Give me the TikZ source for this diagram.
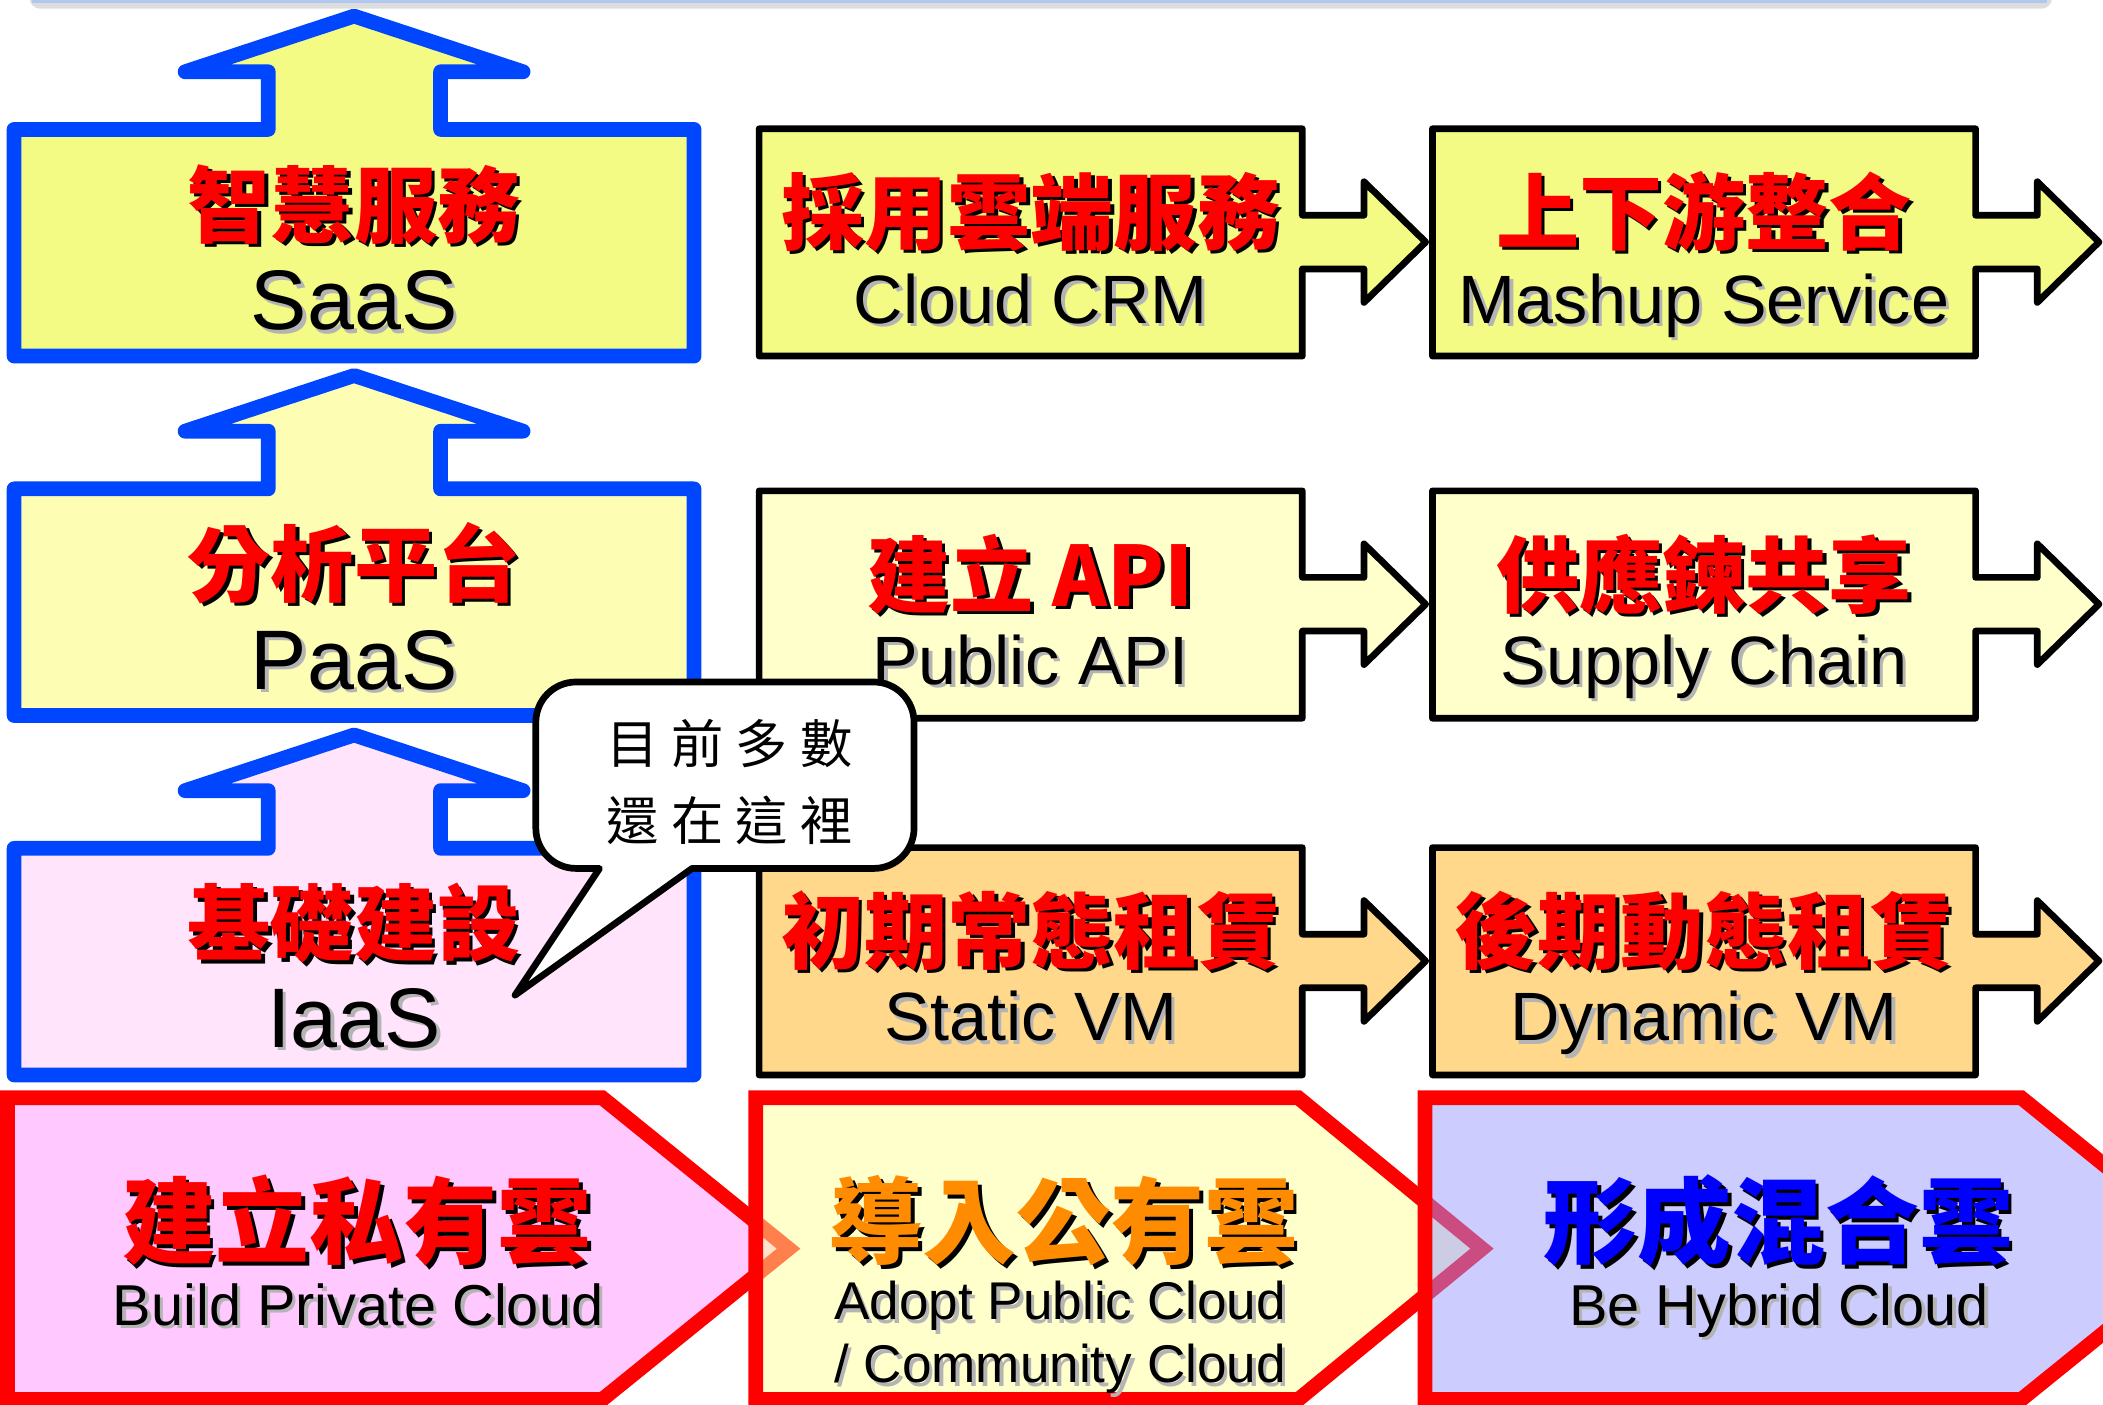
\documentclass[tikz,border=0pt]{standalone}
\usepackage{fontspec}
\setmainfont{Liberation Sans}
\newfontfamily\cjk{Noto Sans CJK TC}
\usetikzlibrary{
  calc,
  positioning
}

\definecolor{blockblue}{RGB}{0,70,255}
\definecolor{saasfill}{RGB}{243,251,132}
\definecolor{paasfill}{RGB}{253,253,180}
\definecolor{iaasfill}{RGB}{255,228,252}
\definecolor{apifill}{RGB}{255,255,204}
\definecolor{vmfill}{RGB}{255,216,140}
\definecolor{privfill}{RGB}{255,200,255}
\definecolor{pubfill}{RGB}{255,255,153}
\definecolor{hybfill}{RGB}{153,153,255}
\definecolor{pubtext}{RGB}{255,140,0}
\definecolor{enshadow}{RGB}{180,180,180}
\definecolor{titleshade}{RGB}{221,221,221}
\definecolor{titleline}{RGB}{176,200,240}

% text with a drop shadow: colour, shadow colour, text
\newcommand\shtext[3]{\leavevmode\rlap{\kern1.3pt\raisebox{-1.3pt}{\textcolor{#2}{#3}}}\textcolor{#1}{#3}}
\newcommand\bgap{\hspace{4.5pt}}

\begin{document}
\begin{tikzpicture}[x=0.5pt, y=-0.5pt,
    every node/.style={inner sep=0pt, outer sep=0pt},
    upblock/.style={draw=blockblue, line width=5.5pt, line join=round},
    stepbox/.style={draw=black, line width=2.5pt, line join=round},
    chevron/.style={draw=red, line width=5.5pt, line join=miter},
    bubble/.style={draw=black, fill=white, line width=2.5pt, line join=round},
    zhtitle/.style={anchor=base, font=\cjk\bfseries\fontsize{31}{31}\selectfont},
    zhbig/.style={anchor=base, font=\cjk\bfseries\fontsize{35}{35}\selectfont},
    layer/.style={anchor=base, font=\fontsize{31.5}{31.5}\selectfont},
    entitle/.style={anchor=base, font=\fontsize{25.5}{25.5}\selectfont},
    ensub/.style={anchor=base, font=\fontsize{21.5}{21.5}\selectfont},
    ensmall/.style={anchor=base west, font=\fontsize{19.8}{19.8}\selectfont},
    bubbletext/.style={anchor=base, font=\cjk\fontsize{19.5}{19.5}\selectfont}]
  \useasboundingbox (0,0) rectangle (1568,1047);
  \clip (0,0) rectangle (1568,1047);

  % title bar, only its lower edge shows
  \fill[titleshade, rounded corners=4pt] (22,-40) rectangle (1530,6.5);
  \draw[titleline, line width=1pt] (24,1) -- (1526,1);

  % service layers
  \begin{scope}[shift={(10.5,96.5)}]
    \draw[upblock, fill=saasfill] (0,0) -- (189.5,0) -- (189.5,-43) -- (127.5,-43) -- (253.5,-84.5) -- (379.5,-43) -- (318,-43) -- (318,0) -- (507,0) -- (507,169) -- (0,169) -- cycle;
  \end{scope}
  \node[zhtitle] (saas-zh) at (264,176) {\shtext{red}{black}{智慧服務}};
  \node[layer] (saas-en) at (264,246) {\shtext{black}{enshadow}{SaaS}};

  \begin{scope}[shift={(10.5,364.5)}]
    \draw[upblock, fill=paasfill] (0,0) -- (189.5,0) -- (189.5,-43) -- (127.5,-43) -- (253.5,-84.5) -- (379.5,-43) -- (318,-43) -- (318,0) -- (507,0) -- (507,169) -- (0,169) -- cycle;
  \end{scope}
  \node[zhtitle] (paas-zh) at (264,444) {\shtext{red}{black}{分析平台}};
  \node[layer] (paas-en) at (264,514) {\shtext{black}{enshadow}{PaaS}};

  \begin{scope}[shift={(10.5,632.5)}]
    \draw[upblock, fill=iaasfill] (0,0) -- (189.5,0) -- (189.5,-43) -- (127.5,-43) -- (253.5,-84.5) -- (379.5,-43) -- (318,-43) -- (318,0) -- (507,0) -- (507,169) -- (0,169) -- cycle;
  \end{scope}
  \node[zhtitle] (iaas-zh) at (264,712) {\shtext{red}{black}{基礎建設}};
  \node[layer] (iaas-en) at (264,781) {\shtext{black}{enshadow}{IaaS}};

  % steps, row by row
  \begin{scope}[shift={(566,96)}]
    \draw[stepbox, fill=saasfill] (0,0) -- (405,0) -- (405,64.5) -- (451,64.5) -- (451,39.5) -- (497,84.5) -- (451,129.5) -- (451,104.5) -- (405,104.5) -- (405,169.5) -- (0,169.5) -- cycle;
  \end{scope}
  \begin{scope}[shift={(1068,96)}]
    \draw[stepbox, fill=saasfill] (0,0) -- (405,0) -- (405,64.5) -- (451,64.5) -- (451,39.5) -- (497,84.5) -- (451,129.5) -- (451,104.5) -- (405,104.5) -- (405,169.5) -- (0,169.5) -- cycle;
  \end{scope}
  \node[zhtitle] (crm-zh) at (768.5,181.5) {\shtext{red}{black}{採用雲端服務}};
  \node[entitle] (crm-en) at (768.5,241) {\shtext{black}{enshadow}{Cloud CRM}};
  \node[zhtitle] (mashup-zh) at (1270.5,181.5) {\shtext{red}{black}{上下游整合}};
  \node[entitle] (mashup-en) at (1270.5,241) {\shtext{black}{enshadow}{Mashup Service}};

  \begin{scope}[shift={(566,366)}]
    \draw[stepbox, fill=apifill] (0,0) -- (405,0) -- (405,64.5) -- (451,64.5) -- (451,39.5) -- (497,84.5) -- (451,129.5) -- (451,104.5) -- (405,104.5) -- (405,169.5) -- (0,169.5) -- cycle;
  \end{scope}
  \begin{scope}[shift={(1068,366)}]
    \draw[stepbox, fill=apifill] (0,0) -- (405,0) -- (405,64.5) -- (451,64.5) -- (451,39.5) -- (497,84.5) -- (451,129.5) -- (451,104.5) -- (405,104.5) -- (405,169.5) -- (0,169.5) -- cycle;
  \end{scope}
  \node[zhtitle] (api-zh) at (768.5,452) {\shtext{red}{black}{建立 API}};
  \node[entitle] (api-en) at (768.5,510) {\shtext{black}{enshadow}{Public API}};
  \node[zhtitle] (chain-zh) at (1270.5,452) {\shtext{red}{black}{供應鍊共享}};
  \node[entitle] (chain-en) at (1270.5,510) {\shtext{black}{enshadow}{Supply Chain}};

  \begin{scope}[shift={(566,632)}]
    \draw[stepbox, fill=vmfill] (0,0) -- (405,0) -- (405,64.5) -- (451,64.5) -- (451,39.5) -- (497,84.5) -- (451,129.5) -- (451,104.5) -- (405,104.5) -- (405,169.5) -- (0,169.5) -- cycle;
  \end{scope}
  \begin{scope}[shift={(1068,632)}]
    \draw[stepbox, fill=vmfill] (0,0) -- (405,0) -- (405,64.5) -- (451,64.5) -- (451,39.5) -- (497,84.5) -- (451,129.5) -- (451,104.5) -- (405,104.5) -- (405,169.5) -- (0,169.5) -- cycle;
  \end{scope}
  \node[zhtitle] (static-zh) at (768.5,717.5) {\shtext{red}{black}{初期常態租賃}};
  \node[entitle] (static-en) at (768.5,776) {\shtext{black}{enshadow}{Static VM}};
  \node[zhtitle] (dynamic-zh) at (1270.5,717.5) {\shtext{red}{black}{後期動態租賃}};
  \node[entitle] (dynamic-en) at (1270.5,776) {\shtext{black}{enshadow}{Dynamic VM}};

  % cloud stages
  \draw[chevron, fill=privfill] (5.5,818.5) -- (449,818.5) -- (588,931) -- (449,1043.5) -- (5.5,1043.5) -- cycle;
  \draw[chevron, fill=pubfill, fill opacity=.5] (563.5,818.5) -- (968,818.5) -- (1105,931) -- (968,1043.5) -- (563.5,1043.5) -- cycle;
  \draw[chevron, fill=hybfill, fill opacity=.5] (1062.5,818.5) -- (1507,818.5) -- (1646,931) -- (1507,1043.5) -- (1062.5,1043.5) -- cycle;

  \node[zhbig] (private-zh) at (266,937) {\shtext{red}{black}{建立私有雲}};
  \node[ensub] (private-en) at (267,988) {\shtext{black}{enshadow}{Build Private Cloud}};
  \node[zhbig] (public-zh) at (793,937) {\shtext{pubtext}{black}{導入公有雲}};
  \node[ensmall] (public-en) at (622,984) {\shtext{black}{enshadow}{Adopt Public Cloud}};
  \node[ensmall] (community-en) at (622,1031) {\shtext{black}{enshadow}{/ Community Cloud}};
  \node[zhbig] (hybrid-zh) at (1326,937) {\shtext{blue}{black}{形成混合雲}};
  \node[ensub] (hybrid-en) at (1326.5,988) {\shtext{black}{enshadow}{Be Hybrid Cloud}};

  % speech bubble
  \draw[bubble] (540,508.5) [rounded corners=15pt] -- (399.5,508.5) -- (399.5,647.5) [sharp corners] -- (447,647.5) -- (384,742) -- (516,647.5) [rounded corners=15pt] -- (681.5,647.5) -- (681.5,508.5) -- cycle;
  \node[bubbletext] (note-1) at (544,569) {目\bgap 前\bgap 多\bgap 數};
  \node[bubbletext] (note-2) at (544,627) {還\bgap 在\bgap 這\bgap 裡};
\end{tikzpicture}
\end{document}
